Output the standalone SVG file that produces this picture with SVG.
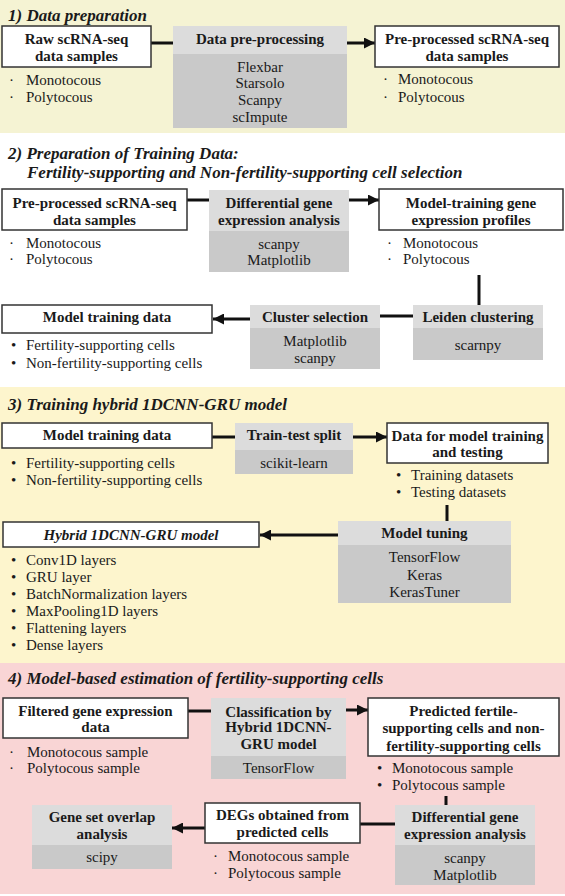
<svg xmlns="http://www.w3.org/2000/svg" width="565" height="896" viewBox="0 0 565 896">
<defs>
<marker id="ah" viewBox="0 0 10 10" refX="10" refY="5" markerWidth="11" markerHeight="11" markerUnits="userSpaceOnUse" orient="auto">
<path d="M0,0 L10,5 L0,10 z" fill="#111"/>
</marker>
</defs>
<style>
text{font-family:"Liberation Serif","Times New Roman",serif;fill:#1a1a1a;font-size:15px}
.t{font-weight:bold;font-style:italic;font-size:17px}
.b{font-weight:bold}
.c{text-anchor:middle}
.box{fill:#fff;stroke:#333;stroke-width:1.5}
.hd{fill:#dcdcdc}
.bd{fill:#c9c9c9}
.ln{stroke:#111;stroke-width:3;fill:none}
.ar{stroke:#111;stroke-width:3;fill:none;marker-end:url(#ah)}
</style>
<rect x="0" y="0" width="565" height="133" fill="#f5f3d3"/>
<rect x="0" y="133" width="565" height="254" fill="#ffffff"/>
<rect x="0" y="387" width="565" height="276" fill="#fdf5cd"/>
<rect x="0" y="663" width="565" height="231" fill="#f9d5d5"/>

<text class="t" x="8" y="21">1) Data preparation</text>
<text class="t" x="8" y="159">2) Preparation of Training Data:</text>
<text class="t" x="27" y="178">Fertility-supporting and Non-fertility-supporting cell selection</text>
<text class="t" x="8" y="410">3) Training hybrid 1DCNN-GRU model</text>
<text class="t" x="8" y="684">4) Model-based estimation of fertility-supporting cells</text>

<g id="connectors">
<line class="ln" x1="151" y1="43" x2="173" y2="43"/>
<line class="ar" x1="347" y1="43" x2="375" y2="43"/>
<line class="ln" x1="187" y1="200" x2="209" y2="200"/>
<line class="ar" x1="349" y1="200" x2="379" y2="200"/>
<line class="ln" x1="479" y1="275" x2="479" y2="305"/>
<line class="ln" x1="380" y1="316" x2="413" y2="316"/>
<line class="ar" x1="250" y1="319" x2="213" y2="319"/>
<line class="ln" x1="212" y1="437" x2="235" y2="437"/>
<line class="ar" x1="353" y1="437" x2="387" y2="437"/>
<line class="ln" x1="447" y1="505" x2="447" y2="521"/>
<line class="ar" x1="338" y1="535" x2="260" y2="535"/>
<line class="ln" x1="188" y1="711" x2="211" y2="711"/>
<line class="ar" x1="346" y1="710" x2="368" y2="710"/>
<line class="ln" x1="446" y1="796" x2="446" y2="805"/>
<line class="ln" x1="360" y1="824" x2="395" y2="824"/>
<line class="ar" x1="205" y1="828" x2="172" y2="828"/>
</g>

<g id="raw1">
<rect class="box" x="2" y="26" width="149" height="41"/>
<text class="b c" x="76.5" y="44">Raw scRNA-seq</text>
<text class="b c" x="76.5" y="61">data samples</text>
<text x="9" y="85">·</text><text x="26" y="85">Monotocous</text>
<text x="9" y="102">·</text><text x="26" y="102">Polytocous</text>
</g>
<g id="prep1">
<rect class="hd" x="173" y="26" width="174" height="28"/>
<rect class="bd" x="173" y="54" width="174" height="74"/>
<text class="b c" x="260" y="44">Data pre-processing</text>
<text class="c" x="260" y="72">Flexbar</text>
<text class="c" x="260" y="88">Starsolo</text>
<text class="c" x="260" y="105">Scanpy</text>
<text class="c" x="260" y="122">scImpute</text>
</g>
<g id="pre1">
<rect class="box" x="375" y="26" width="184" height="41"/>
<text class="b c" x="467" y="44">Pre-processed scRNA-seq</text>
<text class="b c" x="467" y="61">data samples</text>
<text x="383" y="84">·</text><text x="398" y="84">Monotocous</text>
<text x="383" y="102">·</text><text x="398" y="102">Polytocous</text>
</g>

<g id="pre2">
<rect class="box" x="2" y="189" width="185" height="41"/>
<text class="b c" x="94.5" y="208">Pre-processed scRNA-seq</text>
<text class="b c" x="94.5" y="225">data samples</text>
<text x="9" y="248">·</text><text x="26" y="248">Monotocous</text>
<text x="9" y="264">·</text><text x="26" y="264">Polytocous</text>
</g>
<g id="dge2">
<rect class="hd" x="209" y="190" width="140" height="41"/>
<rect class="bd" x="209" y="231" width="140" height="41"/>
<text class="b c" x="279" y="208">Differential gene</text>
<text class="b c" x="279" y="225">expression analysis</text>
<text class="c" x="279" y="249">scanpy</text>
<text class="c" x="279" y="265">Matplotlib</text>
</g>
<g id="mtg2">
<rect class="box" x="379" y="189" width="184" height="41"/>
<text class="b c" x="471" y="208">Model-training gene</text>
<text class="b c" x="471" y="225">expression profiles</text>
<text x="387" y="248">·</text><text x="403" y="248">Monotocous</text>
<text x="387" y="264">·</text><text x="403" y="264">Polytocous</text>
</g>
<g id="leiden">
<rect class="hd" x="413" y="305" width="130" height="23"/>
<rect class="bd" x="413" y="328" width="130" height="32"/>
<text class="b c" x="478" y="322">Leiden clustering</text>
<text class="c" x="478" y="350">scarnpy</text>
</g>
<g id="cluster">
<rect class="hd" x="250" y="305" width="130" height="23"/>
<rect class="bd" x="250" y="328" width="130" height="41"/>
<text class="b c" x="315" y="322">Cluster selection</text>
<text class="c" x="315" y="346">Matplotlib</text>
<text class="c" x="315" y="363">scanpy</text>
</g>
<g id="mtd2">
<rect class="box" x="2" y="305" width="210" height="28"/>
<text class="b c" x="107" y="322">Model training data</text>
<text x="11" y="350">•</text><text x="26" y="350">Fertility-supporting cells</text>
<text x="11" y="368">•</text><text x="26" y="368">Non-fertility-supporting cells</text>
</g>

<g id="mtd3">
<rect class="box" x="2" y="423" width="210" height="25"/>
<text class="b c" x="107" y="440">Model training data</text>
<text x="11" y="468">•</text><text x="26" y="468">Fertility-supporting cells</text>
<text x="11" y="485">•</text><text x="26" y="485">Non-fertility-supporting cells</text>
</g>
<g id="split3">
<rect class="hd" x="235" y="423" width="118" height="27"/>
<rect class="bd" x="235" y="450" width="118" height="24"/>
<text class="b c" x="294" y="440">Train-test split</text>
<text class="c" x="294" y="468">scikit-learn</text>
</g>
<g id="data3">
<rect class="box" x="387" y="423" width="161" height="40"/>
<text class="b c" x="467.5" y="441">Data for model training</text>
<text class="b c" x="467.5" y="457">and testing</text>
<text x="396" y="480">•</text><text x="411" y="480">Training datasets</text>
<text x="396" y="497">•</text><text x="411" y="497">Testing datasets</text>
</g>
<g id="tune3">
<rect class="hd" x="338" y="521" width="173" height="24"/>
<rect class="bd" x="338" y="545" width="173" height="58"/>
<text class="b c" x="424.5" y="538">Model tuning</text>
<text class="c" x="424.5" y="562">TensorFlow</text>
<text class="c" x="424.5" y="580">Keras</text>
<text class="c" x="424.5" y="597">KerasTuner</text>
</g>
<g id="hybrid3">
<rect class="box" x="3" y="522" width="256" height="25"/>
<text class="b c" x="131" y="540" font-style="italic">Hybrid 1DCNN-GRU model</text>
<text x="11" y="565">•</text><text x="26" y="565">Conv1D layers</text>
<text x="11" y="582">•</text><text x="26" y="582">GRU layer</text>
<text x="11" y="599">•</text><text x="26" y="599">BatchNormalization layers</text>
<text x="11" y="616">•</text><text x="26" y="616">MaxPooling1D layers</text>
<text x="11" y="633">•</text><text x="26" y="633">Flattening layers</text>
<text x="11" y="650">•</text><text x="26" y="650">Dense layers</text>
</g>

<g id="filt4">
<rect class="box" x="3" y="698" width="185" height="40"/>
<text class="b c" x="95.5" y="716">Filtered gene expression</text>
<text class="b c" x="95.5" y="732">data</text>
<text x="9" y="757">·</text><text x="27" y="757">Monotocous sample</text>
<text x="9" y="773">·</text><text x="27" y="773">Polytocous sample</text>
</g>
<g id="class4">
<rect class="hd" x="211" y="698" width="135" height="58"/>
<rect class="bd" x="211" y="756" width="135" height="23"/>
<text class="b c" x="278.5" y="717">Classification by</text>
<text class="b c" x="278.5" y="732">Hybrid 1DCNN-</text>
<text class="b c" x="278.5" y="749">GRU model</text>
<text class="c" x="278.5" y="773">TensorFlow</text>
</g>
<g id="pred4">
<rect class="box" x="368" y="698" width="191" height="58"/>
<text class="b c" x="463.5" y="716">Predicted fertile-</text>
<text class="b c" x="463.5" y="733">supporting cells and non-</text>
<text class="b c" x="463.5" y="751">fertility-supporting cells</text>
<text x="377" y="773">•</text><text x="392" y="773">Monotocous sample</text>
<text x="377" y="790">•</text><text x="392" y="790">Polytocous sample</text>
</g>
<g id="dge4">
<rect class="hd" x="395" y="805" width="140" height="40"/>
<rect class="bd" x="395" y="845" width="140" height="40"/>
<text class="b c" x="465" y="822">Differential gene</text>
<text class="b c" x="465" y="839">expression analysis</text>
<text class="c" x="465" y="863">scanpy</text>
<text class="c" x="465" y="880">Matplotlib</text>
</g>
<g id="degs4">
<rect class="box" x="205" y="803" width="155" height="40"/>
<text class="b c" x="282.5" y="820">DEGs obtained from</text>
<text class="b c" x="282.5" y="837">predicted cells</text>
<text x="213" y="861">·</text><text x="228" y="861">Monotocous sample</text>
<text x="213" y="878">·</text><text x="228" y="878">Polytocous sample</text>
</g>
<g id="overlap4">
<rect class="hd" x="32" y="805" width="140" height="40"/>
<rect class="bd" x="32" y="845" width="140" height="24"/>
<text class="b c" x="102" y="822">Gene set overlap</text>
<text class="b c" x="102" y="839">analysis</text>
<text class="c" x="102" y="862">scipy</text>
</g>
</svg>
